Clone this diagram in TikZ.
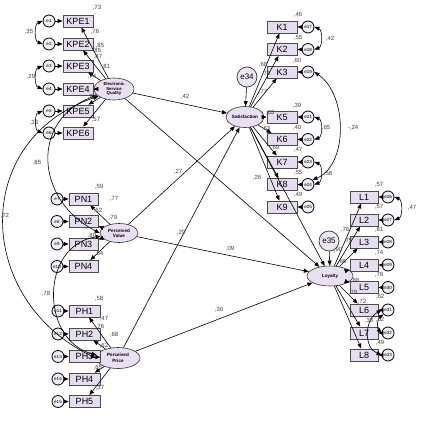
\documentclass[tikz,border=0pt]{standalone}
\usepackage{fontspec}
\setmainfont{Liberation Sans}
\usetikzlibrary{arrows.meta,shapes.geometric}
\definecolor{boxfill}{HTML}{E6DDF0}
\definecolor{ellfill}{HTML}{E8DFF3}
\definecolor{numcol}{HTML}{404040}
\tikzset{
  obs/.style={draw=black!70, fill=boxfill, minimum width=30pt, minimum height=12pt, inner sep=0pt, font=\fontsize{9}{9}\selectfont, line width=0.8pt},
  err/.style={circle, draw=black, fill=boxfill!50, minimum size=12pt, inner sep=0pt, font=\fontsize{4.5}{4.5}\selectfont, line width=0.8pt},
  bigerr/.style={circle, draw=black!80, fill=boxfill!70, minimum size=20pt, inner sep=0pt, font=\fontsize{8}{8}\selectfont, line width=0.7pt},
  lat/.style={ellipse, draw=black!80, fill=ellfill, inner sep=0pt, font=\fontsize{4.3}{4.7}\selectfont\bfseries, align=center, line width=0.6pt},
  arr/.style={-{Triangle[length=5pt,width=4pt]}, line width=0.6pt},
  cov/.style={{Triangle[length=5pt,width=4pt]}-{Triangle[length=5pt,width=4pt]}, line width=0.6pt},
  num/.style={font=\fontsize{6}{6}\selectfont, text=numcol, inner sep=0pt}
}
\begin{document}
\begin{tikzpicture}[x=1pt,y=-1pt]
\useasboundingbox (0,0) rectangle (422,422);
\clip (0,0) rectangle (422,422);
\fill[white] (0,0) rectangle (422,422);

% latent variables
\node[lat, minimum width=40pt, minimum height=22pt] (ESQ) at (114,89) {Electronic\\Service\\Quality};
\node[lat, minimum width=38pt, minimum height=19pt, font=\fontsize{4.6}{5}\selectfont\bfseries] (PV) at (119,233) {Perceived\\Value};
\node[lat, minimum width=44pt, minimum height=21pt, font=\fontsize{4.6}{5.4}\selectfont\bfseries] (PP) at (118,358) {Perceived\\Price};
\node[lat, minimum width=38pt, minimum height=21pt, font=\fontsize{4.6}{5}\selectfont\bfseries] (Sat) at (245,117) {Satisfaction};
\node[lat, minimum width=46pt, minimum height=20pt, font=\fontsize{4.6}{5}\selectfont\bfseries] (Loy) at (330,276) {Loyalty};
\node[bigerr] (e34) at (247,77) {e34};
\node[bigerr] (e35) at (329,241) {e35};

% indicators
\foreach \i/\y in {1/21,2/44,3/66,4/89,5/111,6/133} {
  \node[obs] (KPE\i) at (78,\y) {KPE\i};
  \node[err] (e\i) at (49,\y) {e\i};
}
\foreach \i/\y/\e in {1/199/7,2/221.5/8,3/244/9,4/266.5/10} {
  \node[obs, minimum width=29pt] (PN\i) at (83.5,\y) {PN\i};
  \node[err] (ePN\i) at (57,\y) {e\e};
}
\foreach \i/\y/\e in {1/311/11,2/334/12,3/356.5/13,4/379/14,5/401.5/15} {
  \node[obs, minimum width=31pt] (PH\i) at (84.5,\y) {PH\i};
  \node[err] (ePH\i) at (58,\y) {e\e};
}
\foreach \i/\y/\e in {1/27/17,2/49.5/18,3/72/19,5/117/21,6/139.5/22,7/162/23,8/184.5/24,9/207/25} {
  \node[obs] (K\i) at (282,\y) {K\i};
  \node[err] (eK\i) at (308,\y) {e\e};
}
\foreach \i/\y/\e in {1/197/26,2/220/27,3/242/28,4/265/29,5/287.5/30,6/310/31,7/333/32,8/355/33} {
  \node[obs, minimum width=28pt] (L\i) at (364,\y) {L\i};
  \node[err] (eL\i) at (388,\y) {e\e};
}

% measurement arrows
\foreach \i in {1,...,6} { \draw[arr] (e\i) -- (KPE\i); \draw[arr] (ESQ) -- (KPE\i); }
\foreach \i in {1,...,4} { \draw[arr] (ePN\i) -- (PN\i); \draw[arr] (PV) -- (PN\i); }
\foreach \i in {1,...,5} { \draw[arr] (ePH\i) -- (PH\i); \draw[arr] (PP) -- (PH\i); }
\foreach \i in {1,2,3,5,6,7,8,9} { \draw[arr] (eK\i) -- (K\i); \draw[arr] (Sat) -- (K\i); }
\foreach \i in {1,...,8} { \draw[arr] (eL\i) -- (L\i); \draw[arr] (Loy) -- (L\i); }
\draw[arr] (e34) -- (Sat);
\draw[arr] (e35) -- (Loy);

% structural paths
\draw[arr] (ESQ) -- (Sat);
\draw[arr] (ESQ) -- (Loy);
\draw[arr] (PV) -- (Sat);
\draw[arr] (PP) -- (Sat);
\draw[arr] (PV) -- (Loy);
\draw[arr] (PP) -- (Loy);
\draw[arr] (Sat) -- (Loy);

% latent covariances
\draw[cov] (ESQ.200) .. controls (30,120) and (35,200) .. (PV.180);
\draw[cov] (ESQ.205) .. controls (-30,140) and (-25,300) .. (PP.180);
\draw[cov] (PV.190) .. controls (40,245) and (40,340) .. (PP.172);

% error covariances
\draw[cov] (e1.west) to[bend right=70] (e2.west);
\draw[cov] (e3.west) to[bend right=70] (e4.west);
\draw[cov] (e5.west) to[bend right=70] (e6.west);
\draw[cov] (eK1.east) to[bend left=70] (eK2.east);
\draw[cov] (eK5.east) to[bend left=70] (eK6.east);
\draw[cov] (eK7.east) to[bend left=70] (eK8.east);
\draw[cov] (eK3.east) .. controls (348,95) and (348,165) .. (eK8.north east);
\draw[cov] (eL1.east) to[bend left=70] (eL2.east);
\draw[cov] (eL6.west) .. controls (364,320) and (364,348) .. (eL8.west);
\draw[cov] (eL6.south west) to[bend right=50] (eL7.west);

% numeric labels
\foreach \x/\y/\t [count=\n] in {
  97/8/73, 95/32/76, 100/46/85, 97/51/85, 98/57/87, 106/67/81, 92/77/74, 92/97/92, 96/120/57,
  29/32/35, 31/77/29, 34/123/33,
  99/187/59, 114/199/77, 98/211/62, 113/218/79, 92/236/80, 99/254/54,
  99/299/58, 104/319/47, 100/327/76, 114/335/68, 104/346/62, 98/368/65, 100/388/37,
  37/163/85, 46/294/78,
  185/97/42, 257/178/26, 178/172/27, 181/233/29, 230/249/09, 219/310/30,
  263/65/68, 266/74/74, 263/92/77, 270/113/63, 266/129/63, 275/148/69,
  298/15/46, 298/38/55, 297/61/60, 297/106/39, 297/128/40, 298/150/47, 298/173/55, 298/195/49,
  330/39/42, 326/128/65, 328/174/58,
  379/185/57, 379/207/57, 379/230/81, 379/253/74, 379/275/78, 380/297/62, 380/320/52, 380/343/49,
  412/208/47, 369/321/38,
  345/230/76, 348/241/75, 338/250/90, 342/262/86, 355/281/88, 353/293/79, 362/302/72} {
  \node[num] (lab\n) at (\x,\y) {,\t};
}
\node[num, anchor=west] (labA) at (0.5,216) {,72};
\node[num] (labB) at (353,128) {-,24};
\end{tikzpicture}
\end{document}
